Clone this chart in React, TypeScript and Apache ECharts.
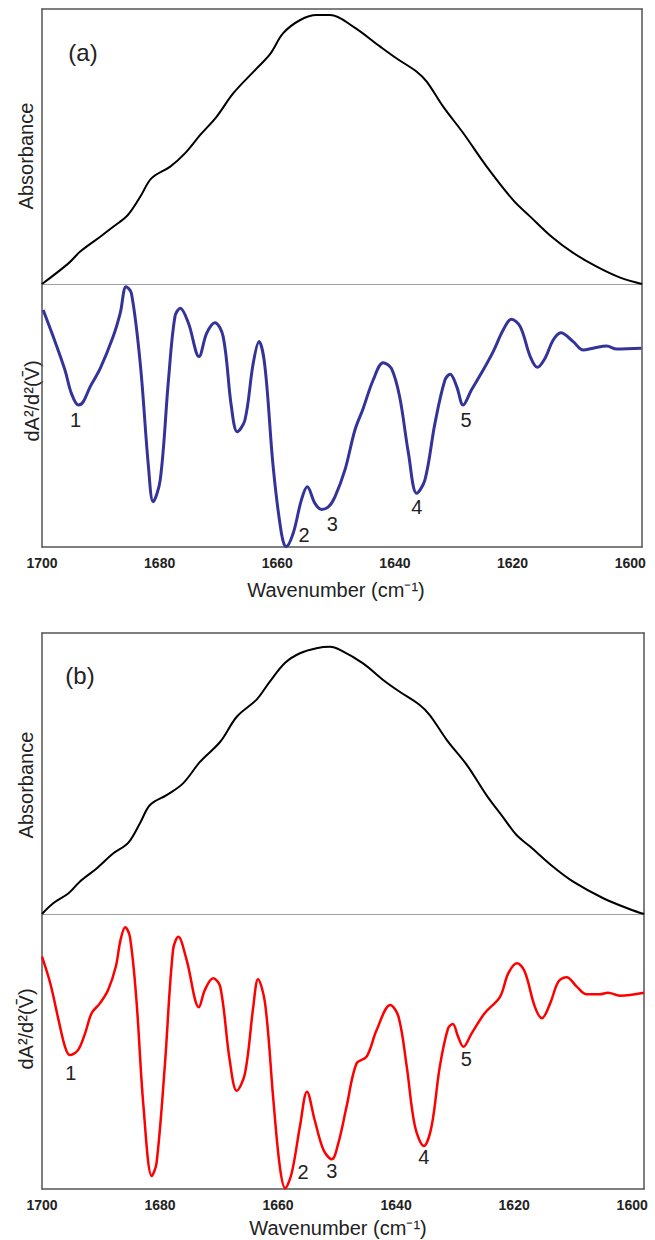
import React, { useEffect, useRef } from "react";
import * as echarts from "echarts";

// ---------- data ----------
const tickValues = [1700, 1680, 1660, 1640, 1620, 1600];
const peakNames = ["1", "2", "3", "4", "5"];

// Panel (a) absorbance
const absAWavenumber = [1700.0, 1695.5, 1693.5, 1690.1, 1687.9, 1685.4, 1683.3, 1681.4, 1678.2, 1675.7, 1673.1, 1670.3, 1667.5, 1663.5, 1661.2, 1659.0, 1656.1, 1653.3, 1651.0, 1647.1, 1642.5, 1639.7, 1636.3, 1634.6, 1631.8, 1628.4, 1624.4, 1619.9, 1617.0, 1613.1, 1609.7, 1605.7, 1601.7, 1598.0];
const absAValue = [0, 0.075, 0.118, 0.172, 0.208, 0.251, 0.317, 0.384, 0.427, 0.475, 0.542, 0.609, 0.693, 0.784, 0.837, 0.912, 0.96, 0.978, 0.978, 0.936, 0.863, 0.82, 0.772, 0.736, 0.645, 0.549, 0.427, 0.305, 0.245, 0.167, 0.113, 0.063, 0.023, 0];

// Panel (a) second derivative (a.u.)
const derAWavenumber = [1699.8, 1698.1, 1696.1, 1695.0, 1693.8, 1693.0, 1691.8, 1690.1, 1687.9, 1686.7, 1685.7, 1684.8, 1683.3, 1681.9, 1681.1, 1679.9, 1678.5, 1677.4, 1676.5, 1675.1, 1673.3, 1672.0, 1670.6, 1669.2, 1667.8, 1666.8, 1665.5, 1664.1, 1663.1, 1662.1, 1660.7, 1659.3, 1658.5, 1657.3, 1655.9, 1654.9, 1653.6, 1652.5, 1651.3, 1650.2, 1648.5, 1646.8, 1645.4, 1643.7, 1642.0, 1640.6, 1639.2, 1637.7, 1636.3, 1634.9, 1633.2, 1631.5, 1630.6, 1629.5, 1628.4, 1627.0, 1625.0, 1623.3, 1621.6, 1620.2, 1618.7, 1617.0, 1615.8, 1614.5, 1613.1, 1611.8, 1609.7, 1608.0, 1606.3, 1604.0, 1602.3, 1598.1];
const derAValue = [-9.9, -20.0, -32.7, -41.6, -46.0, -44.8, -39.0, -32.1, -20.0, -11.1, -1.0, -3.5, -30.2, -69.5, -82.8, -74.5, -36.5, -12.4, -9.2, -14.9, -27.6, -18.7, -14.7, -20.0, -46.7, -56.2, -51.7, -30.2, -21.9, -31.4, -69.5, -94.8, -99.9, -94.8, -82.1, -77.1, -83.4, -85.7, -84.7, -80.9, -70.7, -55.5, -47.3, -36.5, -29.9, -32.1, -42.9, -64.4, -79.6, -74.5, -53.0, -36.5, -34.3, -39.0, -46.0, -40.3, -32.7, -25.7, -17.5, -13.4, -16.2, -27.6, -31.7, -28.3, -21.3, -18.5, -21.9, -25.1, -24.4, -23.6, -24.7, -24.4];
const peakWavenumberA = [1693.8, 1658.5, 1652.5, 1636.3, 1628.4];

// Panel (b) absorbance
const absBWavenumber = [1700.0, 1698.1, 1695.5, 1693.6, 1690.7, 1687.9, 1685.4, 1683.4, 1681.7, 1678.9, 1676.1, 1673.2, 1669.8, 1667.0, 1663.6, 1661.4, 1658.8, 1656.3, 1653.5, 1651.2, 1649.5, 1645.6, 1642.2, 1639.4, 1636.0, 1634.3, 1631.4, 1628.0, 1624.7, 1621.9, 1619.6, 1617.3, 1613.4, 1610.0, 1604.9, 1600.4, 1598.0];
const absBValue = [0, 0.038, 0.074, 0.115, 0.163, 0.216, 0.253, 0.323, 0.388, 0.423, 0.465, 0.542, 0.613, 0.702, 0.764, 0.827, 0.894, 0.928, 0.946, 0.951, 0.94, 0.892, 0.833, 0.791, 0.744, 0.708, 0.619, 0.53, 0.423, 0.345, 0.281, 0.24, 0.168, 0.115, 0.056, 0.017, 0];

// Panel (b) second derivative (a.u.)
const derBWavenumber = [1700.0, 1698.6, 1697.2, 1696.1, 1695.3, 1693.9, 1692.7, 1691.6, 1690.2, 1688.8, 1687.5, 1686.7, 1685.9, 1685.1, 1684.0, 1682.8, 1681.4, 1680.6, 1679.2, 1677.8, 1676.9, 1675.5, 1673.4, 1672.4, 1671.0, 1669.8, 1668.2, 1667.0, 1665.6, 1664.2, 1663.4, 1662.2, 1660.8, 1659.7, 1658.8, 1657.7, 1656.3, 1655.1, 1653.8, 1652.3, 1650.9, 1649.8, 1648.4, 1646.7, 1645.0, 1643.3, 1641.0, 1639.6, 1638.2, 1636.8, 1635.3, 1634.0, 1632.6, 1631.2, 1630.4, 1629.5, 1628.6, 1627.2, 1625.0, 1622.4, 1621.0, 1619.5, 1618.2, 1616.5, 1615.3, 1613.9, 1612.5, 1611.1, 1609.4, 1607.7, 1605.5, 1604.1, 1602.1, 1598.0];
const derBValue = [-15.5, -25.2, -38.5, -48.3, -51.3, -49.5, -43.4, -36.1, -32.5, -27.6, -19.2, -9.5, -4.8, -8.3, -31.3, -70.1, -95.3, -90.7, -55.5, -13.1, -8.3, -16.7, -33.9, -27.6, -23.4, -26.4, -53.1, -64.3, -57.9, -33.7, -23.7, -32.5, -67.6, -91.9, -99.7, -94.3, -77.3, -64.6, -74.9, -85.8, -89.2, -83.4, -70.1, -54.3, -51.9, -42.2, -33.1, -37.3, -55.5, -77.3, -84.4, -77.3, -55.5, -41.6, -40.0, -44.6, -48.3, -43.4, -36.1, -30.1, -21.6, -17.9, -21.0, -33.7, -37.9, -32.5, -24.6, -23.0, -26.4, -29.2, -29.2, -28.6, -29.7, -28.6];
const peakWavenumberB = [1695.3, 1658.8, 1650.9, 1635.3, 1628.6];

// ---------- styling ----------
const FONT = '"Liberation Sans", Arial, Helvetica, sans-serif';
const FRAME = "#555";
const DIVIDER = "#a0a0a0";
const TEXT = "#222";
const X_MIN = 1598;
const X_MAX = 1700;
const labelOffsetA = [[-3, 15], [18, -12], [11, 15], [0, 14], [3, 15]];
const labelOffsetB = [[1, 18], [18, -16], [0, 12], [0, 11], [3, 12]];

const zip = (xs: number[], ys: number[]) => xs.map((x, i) => [x, ys[i]]);
const valueAt = (xs: number[], ys: number[], w: number) => {
  let best = 0;
  xs.forEach((x, i) => {
    if (Math.abs(x - w) < Math.abs(xs[best] - w)) best = i;
  });
  return ys[best];
};

function xAx(gridIndex: number, position: "top" | "bottom", color: string, labels: boolean) {
  return {
    type: "value",
    gridIndex,
    position,
    min: X_MIN,
    max: X_MAX,
    inverse: true,
    axisLine: { show: true, onZero: false, lineStyle: { color, width: color === DIVIDER ? 1 : 1.5 } },
    axisTick: { show: false },
    splitLine: { show: false },
    axisLabel: labels
      ? {
          show: true,
          customValues: tickValues,
          formatter: (v: number) => String(v),
          margin: 9,
          fontFamily: FONT,
          fontWeight: "bold",
          fontSize: 14,
          color: TEXT,
        }
      : { show: false },
  };
}

function yAx(gridIndex: number, position: "left" | "right", min: number, max: number) {
  return {
    type: "value",
    gridIndex,
    position,
    min,
    max,
    axisLine: { show: true, onZero: false, lineStyle: { color: FRAME, width: 1.5 } },
    axisTick: { show: false },
    axisLabel: { show: false },
    splitLine: { show: false },
  };
}

function peakMarks(wns: number[], vals: number[], peaks: number[], offsets: number[][]) {
  return {
    symbol: "circle",
    symbolSize: 1,
    silent: true,
    itemStyle: { color: "rgba(0,0,0,0)" },
    label: { show: true, position: "inside", color: TEXT, fontSize: 20, fontFamily: FONT },
    data: peakNames.map((name, i) => ({
      name,
      coord: [peaks[i], valueAt(wns, vals, peaks[i])],
      label: { formatter: name, offset: offsets[i] },
    })),
  };
}

function txt(x: number, y: number, text: string, size: number, rotate = false) {
  return {
    type: "text",
    x,
    y,
    rotation: rotate ? Math.PI / 2 : 0,
    silent: true,
    style: {
      text,
      font: `${size}px ${FONT}`,
      fill: TEXT,
      textAlign: "center",
      align: "center",
      textVerticalAlign: "middle",
      verticalAlign: "middle",
    },
  };
}

const option = {
  animation: false,
  backgroundColor: "#fff",
  grid: [
    { left: 42, top: 9, width: 600, height: 275 },
    { left: 42, top: 284, width: 600, height: 263 },
    { left: 42, top: 633, width: 602, height: 281 },
    { left: 42, top: 914, width: 602, height: 275 },
  ],
  xAxis: [
    xAx(0, "bottom", DIVIDER, false),
    xAx(0, "top", FRAME, false),
    xAx(1, "bottom", FRAME, true),
    xAx(2, "bottom", DIVIDER, false),
    xAx(2, "top", FRAME, false),
    xAx(3, "bottom", FRAME, true),
  ],
  yAxis: [
    yAx(0, "left", 0, 1),
    yAx(0, "right", 0, 1),
    yAx(1, "left", -100, 0),
    yAx(1, "right", -100, 0),
    yAx(2, "left", 0, 1),
    yAx(2, "right", 0, 1),
    yAx(3, "left", -100, 0),
    yAx(3, "right", -100, 0),
  ],
  series: [
    {
      name: "Absorbance (a)",
      type: "line",
      xAxisIndex: 0,
      yAxisIndex: 0,
      data: zip(absAWavenumber, absAValue),
      smooth: 0.35,
      showSymbol: false,
      lineStyle: { color: "#000", width: 2 },
    },
    {
      name: "2nd derivative (a)",
      type: "line",
      xAxisIndex: 2,
      yAxisIndex: 2,
      data: zip(derAWavenumber, derAValue),
      smooth: 0.35,
      showSymbol: false,
      lineStyle: { color: "#33339a", width: 3 },
      markPoint: peakMarks(derAWavenumber, derAValue, peakWavenumberA, labelOffsetA),
    },
    {
      name: "Absorbance (b)",
      type: "line",
      xAxisIndex: 3,
      yAxisIndex: 4,
      data: zip(absBWavenumber, absBValue),
      smooth: 0.35,
      showSymbol: false,
      lineStyle: { color: "#000", width: 2 },
    },
    {
      name: "2nd derivative (b)",
      type: "line",
      xAxisIndex: 5,
      yAxisIndex: 6,
      data: zip(derBWavenumber, derBValue),
      smooth: 0.35,
      showSymbol: false,
      lineStyle: { color: "#ff0000", width: 2.5 },
      markPoint: peakMarks(derBWavenumber, derBValue, peakWavenumberB, labelOffsetB),
    },
  ],
  graphic: [
    txt(83, 52, "(a)", 24),
    txt(80, 675, "(b)", 24),
    txt(26, 156, "Absorbance", 20, true),
    txt(26, 785, "Absorbance", 20, true),
    txt(32, 401, "dA²/d²(V\u0304)", 20, true),
    txt(26, 1029, "dA²/d²(V\u0304)", 20, true),
    txt(336, 590, "Wavenumber (cm⁻¹)", 20),
    txt(338, 1228, "Wavenumber (cm⁻¹)", 20),
  ],
};

export default function App() {
  const ref = useRef<HTMLDivElement>(null);
  useEffect(() => {
    const chart = echarts.init(ref.current as HTMLDivElement, null, { renderer: "svg" });
    chart.setOption(option as any);
    return () => chart.dispose();
  }, []);
  return (
    <div
      ref={ref}
      style={{ position: "absolute", left: 0, top: 0, width: 655, height: 1240 }}
    />
  );
}
